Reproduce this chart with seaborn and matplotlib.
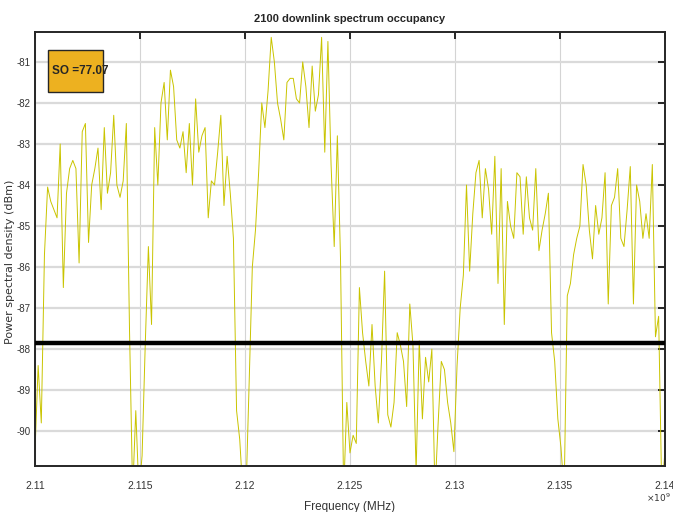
"""
2100 downlink spectrum occupancy - PSD trace with occupancy threshold.
"""

import numpy as np
import matplotlib
matplotlib.use("Agg")
import matplotlib.pyplot as plt
from matplotlib.patches import Rectangle
from matplotlib.ticker import FuncFormatter, MultipleLocator
import seaborn as sns


# ---- data ----
f_start_mhz = 2110
f_stop_mhz = 2140
psd_dbm = [
    -90.5, -88.4, -89.8, -85.7, -84.05, -84.4, -84.6, -84.8, -83.0, -86.5,
    -84.2, -83.6, -83.4, -83.6, -85.9, -82.7, -82.5, -85.4, -84.0, -83.6,
    -83.1, -84.6, -82.6, -84.2, -83.7, -82.3, -84.0, -84.3, -83.9, -82.5,
    -87.5, -91.5, -89.5, -91.5,
    -90.6, -87.9, -85.5, -87.4, -82.6, -84.0, -82.0, -81.5, -82.9, -81.2,
    -81.6, -82.9, -83.1, -82.7, -83.7, -82.5, -84.0, -81.9, -83.2, -82.8,
    -82.6, -84.8, -83.9, -84.0, -83.2, -82.3, -84.5, -83.3, -84.2, -85.3,
    -89.5, -90.2, -91.5,
    -91.5, -88.8, -86.0, -85.1, -83.7, -82.0, -82.6, -81.7, -80.4, -81.0,
    -82.0, -82.4, -82.9, -81.5, -81.4, -81.4, -81.9, -82.0, -81.0, -81.6,
    -82.6, -81.1, -82.2, -81.8, -80.4, -83.2, -80.5, -83.5, -85.5, -82.8,
    -85.8, -91.5, -89.3,
    -90.53, -90.1, -90.3, -86.5, -87.6, -88.3, -88.9, -87.4, -88.9, -89.8,
    -88.3, -86.1, -89.6, -89.9, -89.3, -87.6, -87.9, -88.3, -89.4, -86.9,
    -87.9, -91.0, -87.8, -89.7, -88.2, -88.8, -88.0, -91.5, -89.8, -88.3,
    -88.5, -89.3, -89.8,
    -90.5, -88.4, -87.0, -86.2, -84.0, -86.1, -84.7, -83.7, -83.4, -84.8,
    -83.6, -84.1, -85.2, -83.3, -86.4, -83.6, -87.4, -84.4, -85.0, -85.3,
    -83.7, -83.8, -85.2, -83.8, -84.8, -85.1, -83.6, -85.6, -85.1, -84.7,
    -84.2, -87.6, -88.3,
    -89.7, -90.4, -91.5, -86.7, -86.4, -85.7, -85.3, -85.0, -83.5, -84.0,
    -85.1, -85.8, -84.5, -85.2, -84.8, -83.7, -86.9, -84.5, -84.3, -83.6,
    -85.3, -85.5, -84.6, -83.55, -86.9, -84.0, -84.4, -85.3, -84.7, -85.3,
    -83.5, -87.7, -87.2, -91.5, -90.5,
]
threshold_dbm = -87.85
so_value = 77.07
title = "2100 downlink spectrum occupancy"
x_label = "Frequency (MHz)"
y_label = "Power spectral density (dBm)"

freq_hz = np.linspace(f_start_mhz, f_stop_mhz, len(psd_dbm)) * 1e6

# ---- style ----
sns.set_style("whitegrid")
narrow = ["Liberation Sans Narrow", "Liberation Sans", "DejaVu Sans"]
plt.rcParams["font.family"] = narrow

fig = plt.figure(figsize=(6.73, 5.12), dpi=100)
ax = fig.add_axes([0.052, 0.0898, 0.936, 0.8477])

sns.lineplot(x=freq_hz, y=psd_dbm, ax=ax, color="#c9c400", linewidth=0.7,
             estimator=None, sort=False)
ax.axhline(threshold_dbm, color="black", linewidth=3.2, zorder=3)

ax.set_xlim(f_start_mhz * 1e6, f_stop_mhz * 1e6)
ax.set_ylim(-90.85, -80.27)
ax.xaxis.set_major_locator(MultipleLocator(5e6))
ax.yaxis.set_major_locator(MultipleLocator(1))
ax.xaxis.set_major_formatter(FuncFormatter(lambda v, p: f"{v / 1e9:g}"))
ax.yaxis.set_major_formatter(FuncFormatter(lambda v, p: f"{v:g}"))

# grid: heavier horizontal, light vertical
ax.grid(False)
ax.yaxis.grid(True, color="#dadada", linewidth=1.6)
ax.xaxis.grid(True, color="#d4d4d4", linewidth=0.8)
ax.set_axisbelow(True)

for side in ["left", "right", "top", "bottom"]:
    ax.spines[side].set_visible(True)
    ax.spines[side].set_color("#262626")
    ax.spines[side].set_linewidth(1.4)

ax.tick_params(axis="both", direction="in", length=5, width=1.4,
               color="#262626", labelcolor="#333333", labelsize=7.5,
               top=True, right=True)
ax.tick_params(axis="y", labelsize=7, pad=3)
ax.tick_params(axis="x", pad=11)

ax.set_title(title, fontsize=8, fontweight="bold", pad=7)
ax.set_xlabel(x_label, fontsize=8.5, color="#333333")
ax.xaxis.set_label_coords(0.5, -0.08)
ax.set_ylabel(y_label, fontsize=8, color="#333333", family="DejaVu Sans")
ax.yaxis.set_label_coords(-0.031, 0.47)
ax.text(0.99, -0.074, r"$\times10^{9}$", transform=ax.transAxes,
        ha="center", va="center", fontsize=6.5, color="#333333")

# SO annotation box
ax.add_patch(Rectangle((0.021, 0.862), 0.087, 0.097, transform=ax.transAxes,
                       facecolor="#edb120", edgecolor="#262626",
                       linewidth=1.0, zorder=5))
ax.text(0.027, 0.910, f"SO ={so_value:.2f}", transform=ax.transAxes,
        ha="left", va="center", fontsize=8.5, fontweight="bold", zorder=6)

plt.savefig("out.png", dpi=100)
plt.close()
